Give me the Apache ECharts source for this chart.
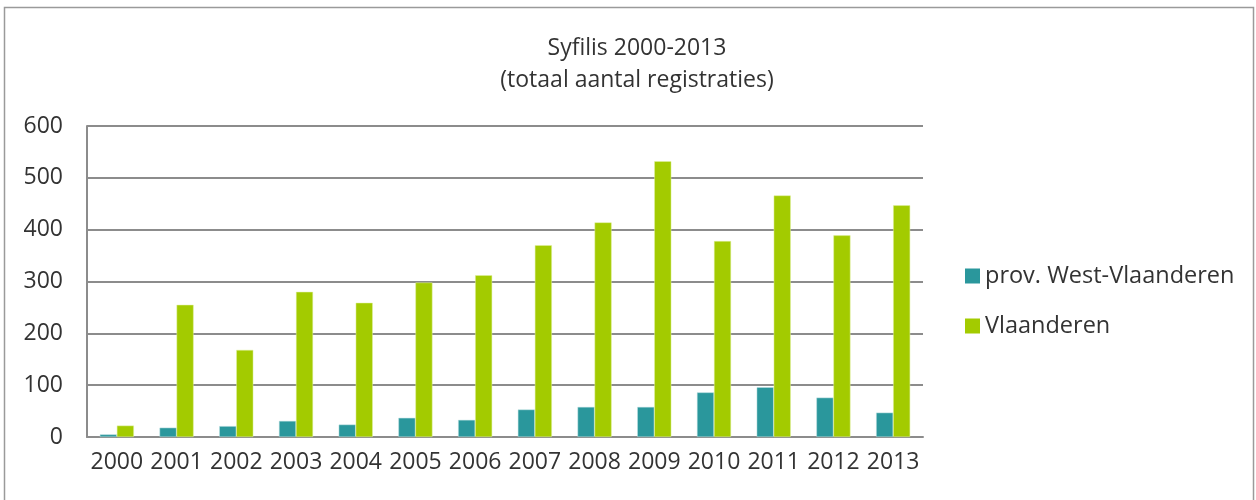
<!DOCTYPE html>
<html><head><meta charset="utf-8">
<script src="https://cdn.jsdelivr.net/npm/echarts@6/dist/echarts.min.js"></script>
<style>html,body{margin:0;padding:0;background:#fff}#c{width:1256px;height:500px}</style>
</head><body><div id="c"></div>
<script>
var years = ['2000','2001','2002','2003','2004','2005','2006','2007','2008','2009','2010','2011','2012','2013'];
var westVlaanderen = [5,18,21,31,24,37,33,53,58,58,86,96,76,47];
var vlaanderen = [22,255,168,280,259,298,312,370,414,532,378,466,389,447];
var yTicks = [0,100,200,300,400,500,600];

var chart = echarts.init(document.getElementById('c'), null, {renderer:'canvas'});
var font = 'Open Sans';
chart.setOption({
  animation:false,
  textStyle:{fontFamily:font},
  graphic:[{type:'rect',shape:{x:4.5,y:7.5,width:1249,height:500},style:{fill:'none',stroke:'#9a9a9a',lineWidth:1.5},silent:true}],
  title:{text:'Syfilis 2000-2013\n(totaal aantal registraties)',left:632,top:27,textAlign:'center',
    textStyle:{fontFamily:font,fontSize:23,fontWeight:'normal',color:'#333',lineHeight:32}},
  legend:{orient:'vertical',left:960,top:259,itemWidth:15,itemHeight:15,itemGap:26,icon:'rect',
    itemStyle:{borderWidth:0},
    textStyle:{fontFamily:font,fontSize:23.5,color:'#333'},
    data:['prov. West-Vlaanderen','Vlaanderen']},
  grid:{left:87,right:333,top:126,bottom:63,containLabel:false},
  xAxis:{type:'category',data:years,
    axisLine:{lineStyle:{color:'#8c8c8c',width:2}},axisTick:{show:false},
    axisLabel:{fontFamily:font,fontSize:23,color:'#333',margin:14,interval:0}},
  yAxis:{type:'value',min:0,max:600,interval:100,
    axisLine:{show:true,lineStyle:{color:'#8c8c8c',width:2}},axisTick:{show:false},
    splitLine:{lineStyle:{color:'#8c8c8c',width:2}},
    axisLabel:{fontFamily:font,fontSize:23,color:'#333',margin:24,
      formatter:function(v){return yTicks.indexOf(v)>=0?String(v):'';}}},
  series:[
    {name:'prov. West-Vlaanderen',type:'bar',data:westVlaanderen,barGap:'0%',barCategoryGap:'43%',
      itemStyle:{color:'#2a979c',borderColor:'#bfe0e2',borderWidth:0.5}},
    {name:'Vlaanderen',type:'bar',data:vlaanderen,barGap:'0%',barCategoryGap:'43%',
      itemStyle:{color:'#a3cb00',borderColor:'#e0f0a0',borderWidth:0.5}}
  ]
});
</script></body></html>
